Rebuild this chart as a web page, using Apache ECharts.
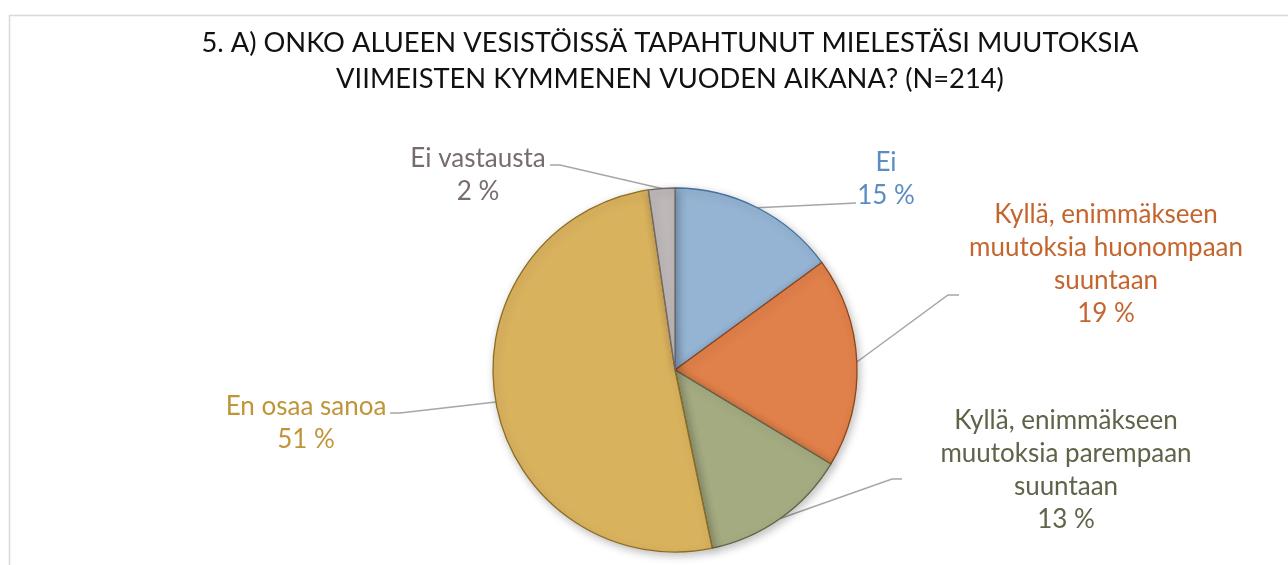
<!DOCTYPE html>
<html>
<head>
<meta charset="utf-8">
<script src="https://cdn.jsdelivr.net/npm/echarts@6/dist/echarts.min.js"></script>
<style>
html,body{margin:0;padding:0;background:#fff;}
#chart{width:1288px;height:565px;}
</style>
</head>
<body>
<div id="chart"></div>
<script>
// ---- data ----
const titleLines = ['5. A) ONKO ALUEEN VESISTÖISSÄ TAPAHTUNUT MIELESTÄSI MUUTOKSIA', 'VIIMEISTEN KYMMENEN VUODEN AIKANA? (N=214)'];
const categories = ['Ei', 'Kyllä, enimmäkseen muutoksia huonompaan suuntaan', 'Kyllä, enimmäkseen muutoksia parempaan suuntaan', 'En osaa sanoa', 'Ei vastausta'];
const counts = [32, 40, 28, 109, 5];

// ---- styles ----
const fillColors = ['#95B3D3', '#E0804A', '#A4AB81', '#D9B25E', '#BFB8B8'];
const borderColors = ['#41719C', '#8F4517', '#5E6446', '#8C6D22', '#716767'];
const labelColors = ['#5B8DC2', '#C4652E', '#5D6448', '#C0953A', '#776C6C'];
// label block centres and leader-line bends (layout only)
const labelLayouts = [
  {x: 886, y: 179, bend: [846, 203.5], end: [856, 203]},
  {x: 1106, y: 264, bend: [948, 295], end: [959, 295]},
  {x: 1066, y: 470, bend: [892, 479], end: [902, 479]},
  {x: 306, y: 423, bend: [400, 413], end: [390, 413]},
  {x: 478, y: 175, bend: [560, 165], end: [550, 165]}
];

function wrap(text, maxChars) {
  const words = text.split(' ');
  const lines = [];
  let cur = '';
  words.forEach(w => {
    if (cur && (cur + ' ' + w).length > maxChars) { lines.push(cur); cur = w; }
    else cur = cur ? cur + ' ' + w : w;
  });
  if (cur) lines.push(cur);
  return lines.join('\n');
}

const chart = echarts.init(document.getElementById('chart'), null, {renderer: 'canvas'});
const FONT = 'Lato';

chart.setOption({
  animation: false,
  backgroundColor: '#ffffff',
  graphic: [{
    type: 'rect', left: 7, top: 13, z: -1,
    shape: {width: 1400, height: 700},
    style: {fill: 'none', stroke: '#D9D9D9', lineWidth: 1.5}
  }],
  title: {
    text: titleLines.join('\n'),
    left: 665, top: 20, textAlign: 'center',
    textStyle: {fontFamily: FONT, fontSize: 27.3, fontWeight: 'normal', color: '#111111', lineHeight: 36}
  },
  series: [{
    type: 'pie',
    center: [675, 370],
    radius: 182,
    startAngle: 90,
    clockwise: true,
    avoidLabelOverlap: false,
    data: categories.map((c, i) => ({
      name: c, value: counts[i],
      itemStyle: {color: fillColors[i], borderColor: borderColors[i]},
      label: {color: labelColors[i]}
    })),
    itemStyle: {
      borderWidth: 1.3,
      shadowBlur: 8, shadowColor: 'rgba(0,0,0,0.25)', shadowOffsetX: 2, shadowOffsetY: 3
    },
    label: {
      show: true, position: 'outside',
      fontFamily: FONT, fontSize: 26, lineHeight: 33, align: 'center',
      formatter: p => wrap(p.name, 20) + '\n' + Math.round(p.percent) + ' %'
    },
    labelLine: {show: true, smooth: false, length: 20, length2: 10, lineStyle: {color: '#A6A6A6', width: 1.5}},
    labelLayout: function (params) {
      const L = labelLayouts[params.dataIndex];
      const anchor = params.labelLinePoints ? params.labelLinePoints[0] : L.bend;
      return {
        x: L.x, y: L.y, align: 'center', verticalAlign: 'middle',
        labelLinePoints: [anchor, L.bend, L.end]
      };
    },
    emphasis: {disabled: true}
  }]
});
</script>
</body>
</html>
